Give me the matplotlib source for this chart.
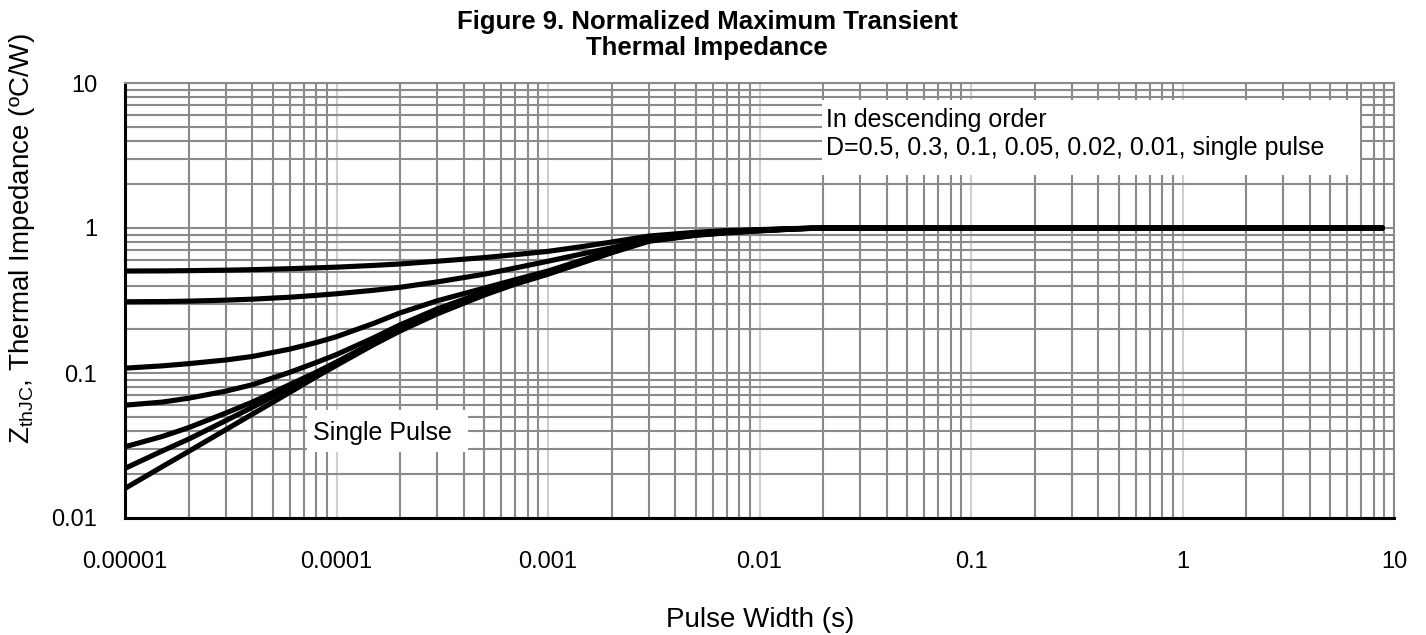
import numpy as np
import matplotlib.pyplot as plt
from matplotlib.patches import Rectangle
from matplotlib.ticker import FixedLocator, LogLocator, NullFormatter

plt.rcParams['font.family'] = ['Liberation Sans', 'DejaVu Sans']
plt.rcParams['mathtext.default'] = 'regular'

#Data (pulse width in s, Zth normalized)
pulse = [1e-5, 1.5e-5, 2e-5, 3e-5, 4e-5, 6e-5, 8e-5, 1e-4, 1.5e-4, 2e-4, 3e-4, 5e-4, 7e-4,
         1e-3, 1.5e-3, 2e-3, 3e-3, 5e-3, 7e-3, 1e-2, 1.5e-2, 2e-2, 0.1, 1, 8.8]
z_d05 = [0.505, 0.506, 0.508, 0.512, 0.516, 0.524, 0.531, 0.537, 0.552, 0.565, 0.59, 0.625, 0.655,
         0.69, 0.75, 0.80, 0.88, 0.935, 0.96, 0.975, 0.993, 1.0, 1.0, 1.0, 1.0]
z_d03 = [0.31, 0.311, 0.313, 0.318, 0.323, 0.333, 0.343, 0.352, 0.372, 0.39, 0.425, 0.48, 0.53,
         0.59, 0.67, 0.73, 0.85, 0.92, 0.95, 0.97, 0.99, 1.0, 1.0, 1.0, 1.0]
z_d01 = [0.108, 0.112, 0.116, 0.123, 0.13, 0.146, 0.162, 0.178, 0.22, 0.26, 0.315, 0.385, 0.44,
         0.505, 0.61, 0.70, 0.835, 0.91, 0.94, 0.965, 0.99, 1.0, 1.0, 1.0, 1.0]
z_d005 = [0.06, 0.063, 0.067, 0.075, 0.083, 0.101, 0.118, 0.134, 0.175, 0.215, 0.277, 0.362, 0.425,
          0.494, 0.60, 0.69, 0.825, 0.903, 0.937, 0.962, 0.99, 1.0, 1.0, 1.0, 1.0]
z_d002 = [0.031, 0.0365, 0.042, 0.053, 0.063, 0.083, 0.101, 0.119, 0.163, 0.202, 0.264, 0.353, 0.418,
          0.488, 0.595, 0.685, 0.82, 0.90, 0.935, 0.96, 0.988, 1.0, 1.0, 1.0, 1.0]
z_d001 = [0.022, 0.029, 0.035, 0.047, 0.058, 0.079, 0.099, 0.118, 0.161, 0.199, 0.26, 0.349, 0.414,
          0.484, 0.59, 0.68, 0.815, 0.895, 0.93, 0.958, 0.987, 1.0, 1.0, 1.0, 1.0]
z_single = [0.016, 0.0226, 0.0288, 0.0407, 0.052, 0.0734, 0.094, 0.113, 0.157, 0.195, 0.256, 0.345, 0.41,
            0.48, 0.585, 0.675, 0.81, 0.89, 0.925, 0.955, 0.985, 1.0, 1.0, 1.0, 1.0]

x_ticks = [1e-5, 1e-4, 1e-3, 1e-2, 0.1, 1, 10]
x_labels = ['0.00001', '0.0001', '0.001', '0.01', '0.1', '1', '10']
y_ticks = [0.01, 0.1, 1, 10]
y_labels = ['0.01', '0.1', '1', '10']

W, H = 1426, 635
fig = plt.figure(figsize=(W/100, H/100), dpi=100)
ax = fig.add_axes([125/W, (H-518)/H, 1269/W, 435/H])

ax.set_xscale('log')
ax.set_yscale('log')
ax.set_xlim(1e-5, 10)
ax.set_ylim(0.01, 10)

#grid: minor darker gray, x major lighter
ax.xaxis.set_minor_locator(LogLocator(base=10, subs=np.arange(2, 10)))
ax.yaxis.set_minor_locator(LogLocator(base=10, subs=np.arange(2, 10)))
ax.xaxis.set_minor_formatter(NullFormatter())
ax.yaxis.set_minor_formatter(NullFormatter())
ax.grid(which='minor', axis='both', color='#8a8a8a', lw=1.5)
ax.grid(which='major', axis='y', color='#8a8a8a', lw=1.5)
ax.grid(which='major', axis='x', color='#cfcfcf', lw=1.5)
ax.set_axisbelow(True)

for z in [z_d05, z_d03, z_d01, z_d005, z_d002, z_d001, z_single]:
    ax.plot(pulse, z, color='black', lw=3.7, solid_capstyle='round',
            solid_joinstyle='round', zorder=3)

ax.xaxis.set_major_locator(FixedLocator(x_ticks))
ax.set_xticklabels(x_labels)
ax.yaxis.set_major_locator(FixedLocator(y_ticks))
ax.set_yticklabels(y_labels)
ax.tick_params(which='both', length=0, labelsize=17)
ax.tick_params(axis='x', pad=24)
ax.tick_params(axis='y', pad=20)

for s in ['left', 'bottom']:
    ax.spines[s].set_color('black')
    ax.spines[s].set_linewidth(2.2)
for s in ['top', 'right']:
    ax.spines[s].set_color('#8a8a8a')
    ax.spines[s].set_linewidth(1.5)

#annotation boxes
ax.add_patch(Rectangle((0.549, 0.789), 0.424, 0.172, transform=ax.transAxes,
                       facecolor='white', edgecolor='none', zorder=2))
ax.text(0.5524, 0.883, 'In descending order\nD=0.5, 0.3, 0.1, 0.05, 0.02, 0.01, single pulse',
        transform=ax.transAxes, fontsize=18, ha='left', va='center', linespacing=1.2, zorder=4)

ax.add_patch(Rectangle((0.1434, 0.152), 0.127, 0.097, transform=ax.transAxes,
                       facecolor='white', edgecolor='none', zorder=2))
ax.text(0.2025, 0.196, 'Single Pulse', transform=ax.transAxes, fontsize=18,
        ha='center', va='center', zorder=4)

fig.text(0.496, 1-10/H, 'Figure 9. Normalized Maximum Transient\nThermal Impedance',
         ha='center', va='top', fontsize=18.5, fontweight='bold', linespacing=1.1)
fig.text(22/W, 1-239/H, r'Z$_{\mathregular{thJC}}$, Thermal Impedance (ºC/W)',
         rotation=90, ha='center', va='center', fontsize=20)
fig.text(760/W, 1-620/H, 'Pulse Width (s)', ha='center', va='center', fontsize=20)

fig.savefig('out.png', dpi=100)
